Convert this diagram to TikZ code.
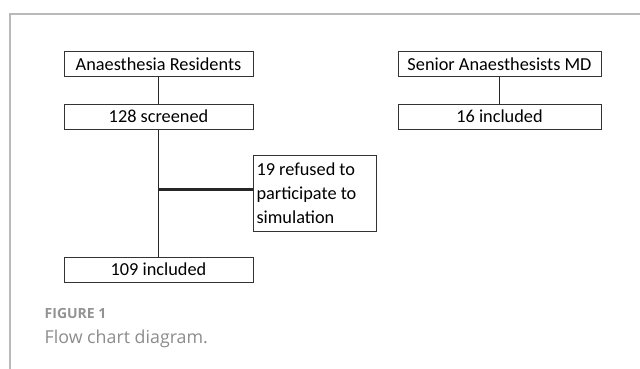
\documentclass[tikz,border=0pt]{standalone}
\usepackage{fontspec}
\setmainfont{Carlito}
\newfontfamily\capfont{Open Sans}
\begin{document}
\begin{tikzpicture}[x=1pt,y=-1pt,
  boxnode/.style={draw=black!80,line width=1pt,inner sep=0pt,font=\fontsize{18.3}{22}\selectfont},
  conn/.style={draw=black!85,line width=1.3pt}]
\useasboundingbox (0,0) rectangle (640,369);
\draw[gray!55,line width=1.2pt] (640,14) -- (10,14) -- (10,369);
\node[boxnode,minimum width=189pt,minimum height=25pt] (res) at (158.5,64.5) {Anaesthesia Residents};
\node[boxnode,minimum width=189pt,minimum height=25pt] (scr) at (158.5,116.5) {128 screened};
\node[boxnode,minimum width=189pt,minimum height=25pt] (inc) at (158.5,269.5) {109 included};
\node[boxnode,minimum width=123pt,minimum height=76pt,align=flush left,text width=117pt,font=\fontsize{18.3}{24}\selectfont] (ref) at (315,193) {19 refused to\\participate to\\simulation};
\node[boxnode,minimum width=203pt,minimum height=25pt] (sen) at (499.5,64.5) {Senior Anaesthesists MD};
\node[boxnode,minimum width=203pt,minimum height=25pt] (sinc) at (499.5,116.5) {16 included};
\coordinate (j) at (scr.south |- 0,189);
\draw[conn] (res.south) -- (scr.north);
\draw[conn] (scr.south) -- (inc.north);
\draw[conn,line width=3pt] (j) -- (ref.west |- j);
\draw[conn] (sen.south) -- (sinc.north);
\node[anchor=west,inner sep=0pt,text=gray!85,font=\capfont\fontsize{14}{16}\selectfont\bfseries] (fig) at (44.5,313) {FIGURE 1};
\node[anchor=west,inner sep=0pt,text=gray!90,font=\capfont\fontsize{17.8}{20}\selectfont] (cap) at (44.5,339) {Flow chart diagram.};
\end{tikzpicture}
\end{document}
